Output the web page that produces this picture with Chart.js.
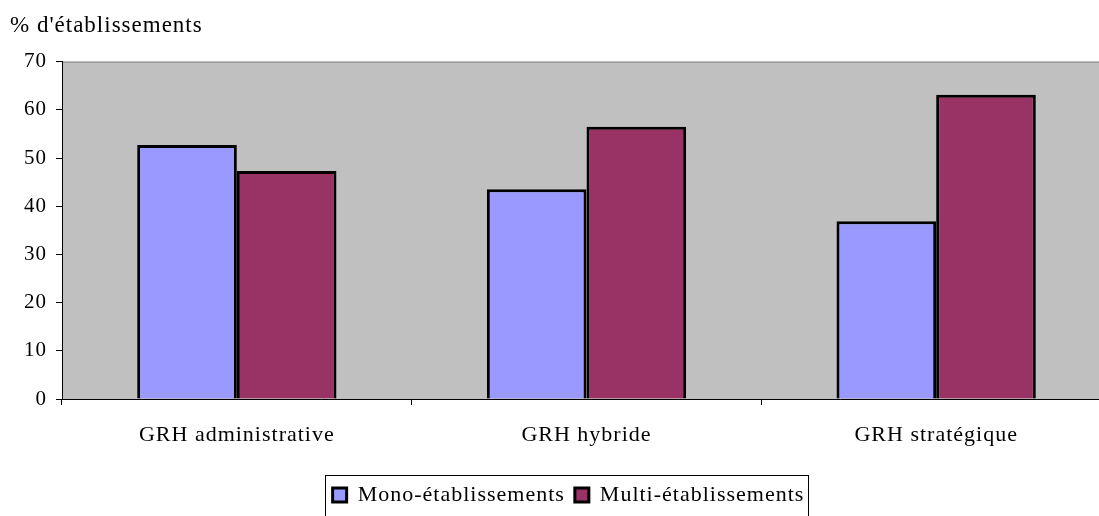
<!DOCTYPE html>
<html>
<head>
<meta charset="utf-8">
<script src="https://cdn.jsdelivr.net/npm/chart.js"></script>
<style>
  body { margin: 0; background: #fff; }
  #c { display: block; }
</style>
</head>
<body>
<canvas id="c" width="1099" height="516"></canvas>
<script>
// Data
const categories = ["GRH administrative", "GRH hybride", "GRH stratégique"];
const monoValues = [52.7, 43.5, 36.9];
const multiValues = [47.3, 56.5, 63.1];
const yTicks = [0, 10, 20, 30, 40, 50, 60, 70];
const yTitle = "% d'établissements";

const serif = "'Liberation Serif', 'Times New Roman', serif";
const overhang = 14;     // the plot runs a bit past the right edge in the picture
const legendShift = 15;  // legend sits a little right of centre

// grey plot area + spacing like the old office chart
const plotBackground = {
    id: 'plotBackground',
    beforeLayout(chart) {
        chart.ctx.letterSpacing = '1px';
    },
    afterLayout(chart) {
        const x = chart.scales.x;
        x.right += overhang;
        x.width += overhang;
        x.configure();
        chart.chartArea.right += overhang;
        chart.chartArea.width += overhang;

        const lg = chart.legend;
        lg.left += legendShift;
        lg.right += legendShift;
        (lg.legendHitBoxes || []).forEach(b => { b.left += legendShift; });
    },
    beforeDraw(chart) {
        const ctx = chart.ctx;
        const a = chart.chartArea;
        ctx.save();
        ctx.fillStyle = '#c0c0c0';
        ctx.fillRect(a.left, a.top, a.right - a.left, a.bottom - a.top);
        ctx.strokeStyle = '#808080';
        ctx.lineWidth = 1;
        ctx.strokeRect(a.left + 0.5, a.top + 0.5, a.right - a.left - 1, a.bottom - a.top);
        ctx.restore();
    }
};

// frame around the legend, running off the bottom edge as in the picture
const legendFrame = {
    id: 'legendFrame',
    afterDraw(chart) {
        const boxes = chart.legend.legendHitBoxes;
        if (!boxes || !boxes.length) return;
        const first = boxes[0];
        const last = boxes[boxes.length - 1];
        const ctx = chart.ctx;
        ctx.save();
        ctx.strokeStyle = '#000';
        ctx.lineWidth = 1;
        const left = Math.round(first.left - 8) + 0.5;
        const right = Math.round(last.left + last.width + 4) + 0.5;
        const top = Math.round(first.top - 9) + 0.5;
        ctx.strokeRect(left, top, right - left, 80);
        ctx.restore();
    }
};

new Chart(document.getElementById('c').getContext('2d'), {
    type: 'bar',
    data: {
        labels: categories,
        datasets: [{
            label: 'Mono-établissements',
            data: monoValues,
            backgroundColor: '#9999ff',
            borderColor: '#000',
            borderWidth: 3,
            categoryPercentage: 0.57,
            barPercentage: 1.0
        }, {
            label: 'Multi-établissements',
            data: multiValues,
            backgroundColor: '#993366',
            borderColor: '#000',
            borderWidth: 3,
            categoryPercentage: 0.57,
            barPercentage: 1.0
        }]
    },
    options: {
        responsive: false,
        animation: false,
        layout: { padding: { left: 10, right: 2, top: 0, bottom: 0 } },
        scales: {
            x: {
                offset: true,
                grid: { offset: true, drawOnChartArea: false, drawTicks: true, tickLength: 6, color: '#000' },
                border: { display: true, color: '#000', width: 1 },
                ticks: { color: '#000', font: { family: serif, size: 22 }, padding: 17, maxRotation: 0 },
                afterFit(scale) { scale.height = 75; }
            },
            y: {
                min: 0,
                max: 70,
                afterBuildTicks(scale) { scale.ticks = yTicks.map(v => ({ value: v })); },
                grid: { drawOnChartArea: false, drawTicks: true, tickLength: 6, color: '#000' },
                border: { display: true, color: '#000', width: 1 },
                ticks: { color: '#000', font: { family: serif, size: 21 }, padding: 9 },
                afterFit(scale) { scale.width = 52; }
            }
        },
        plugins: {
            title: {
                display: true,
                text: yTitle,
                align: 'start',
                color: '#000',
                font: { family: serif, size: 23, weight: 'normal' },
                padding: { top: 12, bottom: 22 }
            },
            legend: {
                position: 'bottom',
                labels: {
                    color: '#000',
                    font: { family: serif, size: 22 },
                    boxWidth: 14,
                    boxHeight: 14,
                    padding: 10,
                    useBorderRadius: false
                }
            },
            tooltip: { enabled: false }
        }
    },
    plugins: [plotBackground, legendFrame]
});
</script>
</body>
</html>
